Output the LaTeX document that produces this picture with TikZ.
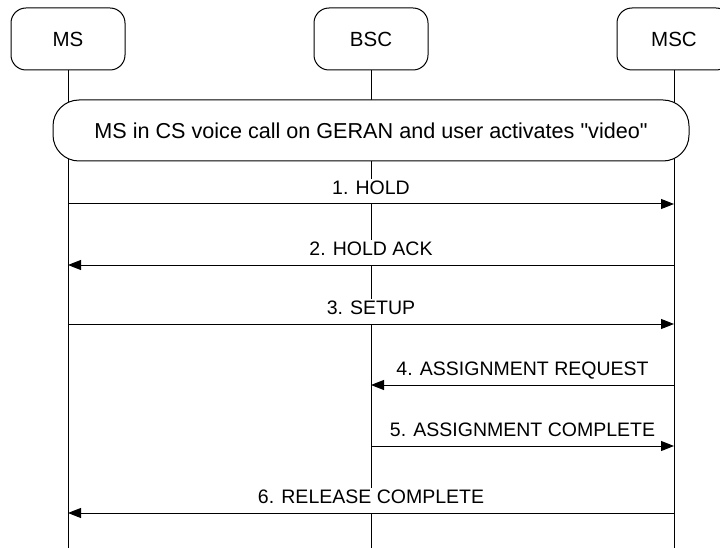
\documentclass[tikz,border=0pt]{standalone}
\usepackage{fontspec}
\setmainfont{Liberation Sans}[Ligatures=TeXOff]
\usetikzlibrary{arrows.meta}
\begin{document}
\begin{tikzpicture}[x=1pt,y=-1pt,
  entity/.style={draw, line width=1pt, rounded corners=15pt, minimum width=114pt, minimum height=62pt, inner sep=0pt, font=\fontsize{20.5}{24}\selectfont},
  lifeline/.style={line width=1pt},
  bar/.style={draw, fill=white, line width=1pt, rounded corners=26pt, minimum width=636pt, minimum height=61pt, inner sep=0pt, font=\fontsize{21.6}{24}\selectfont},
  msg/.style={line width=1pt, -{Triangle[length=13pt,width=10pt]}},
  lbl/.style={fill=white, anchor=south, inner xsep=4pt, inner ysep=1pt, text height=15pt, text depth=8pt, font=\fontsize{19.5}{22}\selectfont},
]
\clip (0,0) rectangle (720,548);
\useasboundingbox (0,0) rectangle (720,548);
% entities
\node[entity] (ms) at (68,39) {MS};
\node[entity] (bsc) at (371,39) {BSC};
\node[entity] (msc) at (674,39) {MSC};
\coordinate (bottom) at (0,548);
% lifelines
\draw[lifeline] (ms.south) -- (ms.south |- bottom);
\draw[lifeline] (bsc.south) -- (bsc.south |- bottom);
\draw[lifeline] (msc.south) -- (msc.south |- bottom);
% state bar
\node[bar] (state) at (371,130.5) {MS in CS voice call on GERAN and user activates "video"};
% message rows
\coordinate (m1) at (0,204);
\coordinate (m2) at (0,265);
\coordinate (m3) at (0,324);
\coordinate (m4) at (0,385);
\coordinate (m5) at (0,446);
\coordinate (m6) at (0,513);
% labels
\node[lbl] (l1) at (371,204) {1. HOLD};
\node[lbl] (l2) at (371,265) {2. HOLD ACK};
\node[lbl] (l3) at (371,324) {3. SETUP};
\node[lbl] (l4) at (522.5,385) {4. ASSIGNMENT REQUEST};
\node[lbl] (l5) at (522.5,446) {5. ASSIGNMENT COMPLETE};
\node[lbl] (l6) at (371,513) {6. RELEASE COMPLETE};
% messages
\draw[msg] (ms |- m1) -- (msc |- m1);
\draw[msg] (msc |- m2) -- (ms |- m2);
\draw[msg] (ms |- m3) -- (msc |- m3);
\draw[msg] (msc |- m4) -- (bsc |- m4);
\draw[msg] (bsc |- m5) -- (msc |- m5);
\draw[msg] (msc |- m6) -- (ms |- m6);
\end{tikzpicture}
\end{document}
